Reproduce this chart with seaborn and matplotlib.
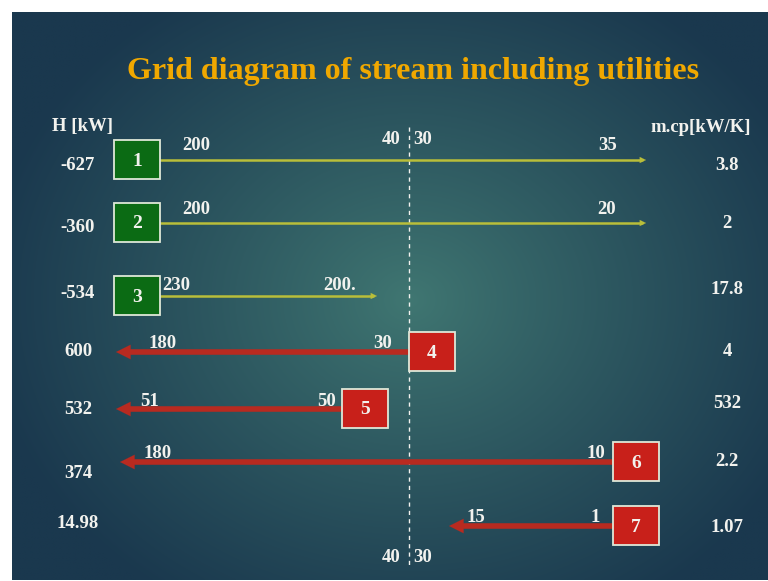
import matplotlib
matplotlib.use("Agg")
import matplotlib.pyplot as plt
from matplotlib.patches import Rectangle
import seaborn as sns
import pandas as pd
import numpy as np

# stream data
stream_id = [1, 2, 3, 4, 5, 6, 7]
kind = ["hot", "hot", "hot", "cold", "cold", "cold", "cold"]
t_start = ["200", "200", "230", "30", "50", "10", "1"]
t_end = ["35", "20", "200.", "180", "51", "180", "15"]
heat_load = ["-627", "-360", "-534", "600", "532", "374", "14.98"]
mcp = ["3.8", "2", "17.8", "4", "532", "2.2", "1.07"]
pinch_hot = "40"
pinch_cold = "30"

# layout of the grid (slide pixels)
row_y = [160, 223, 296, 352, 409, 462, 526]
box_x = [137, 137, 137, 432, 365, 636, 636]
line_from = [160, 160, 160, 409, 345, 614, 614]
line_to = [646, 646, 377, 116, 116, 120, 449]
start_lab_x = [196, 196, 176, 383, 327, 596, 595]
end_lab_x = [608, 607, 340, 163, 150, 158, 476]
lab_dy = [15, 13, 11, 8, 7, 9, 9]
h_lab_y = [165, 228, 293, 351, 409, 473, 523]
mcp_lab_y = [165, 223, 290, 351, 404, 462, 528]
pinch_x = 409

sns.set_theme(style="white")
plt.rcParams['font.family'] = ['Liberation Serif', 'DejaVu Serif']

fig = plt.figure(figsize=(7.68, 5.81), dpi=100)
fig.patch.set_facecolor("white")
ax = fig.add_axes([0, 0, 1, 1])

# slide background: radial teal gradient
gx, gy = np.meshgrid(np.linspace(12, 768, 400), np.linspace(12, 580, 300))
r = np.sqrt(((gx - 410) / 430) ** 2 + ((gy - 300) / 360) ** 2)
r = np.clip(r, 0, 1) ** 0.9
c_in = np.array([0x40, 0x77, 0x72]) / 255
c_out = np.array([0x1a, 0x38, 0x4e]) / 255
img = c_in[None, None, :] * (1 - r[..., None]) + c_out[None, None, :] * r[..., None]
ax.imshow(img, extent=[12, 768, 580, 12], aspect="auto", zorder=0, interpolation="bilinear")

# stream lines (hot run left to right, cold right to left)
direction = [1 if k == "hot" else -1 for k in kind]
rows = []
for i, s in enumerate(stream_id):
    stop = line_to[i] - direction[i] * (4 if kind[i] == "hot" else 10)
    for x in (line_from[i], stop):
        rows.append({"stream": s, "kind": kind[i], "x": x, "y": row_y[i]})
df = pd.DataFrame(rows)
sns.lineplot(data=df, x="x", y="y", units="stream", estimator=None, sort=False,
             hue="kind", palette={"hot": "#b9be3a", "cold": "#b82a20"},
             size="kind", sizes={"hot": 1.8, "cold": 4.0}, legend=False, ax=ax, zorder=3)
ax.set_xlim(0, 768)
ax.set_ylim(581, 0)
ax.axis("off")

white = "#f2f2ee"
for i, s in enumerate(stream_id):
    y = row_y[i]
    hot = kind[i] == "hot"
    col = "#b9be3a" if hot else "#b82a20"
    step = 8 if hot else 14
    ax.annotate("", xy=(line_to[i], y), xytext=(line_to[i] - direction[i] * step, y),
                arrowprops=dict(arrowstyle="-|>", color=col, lw=0.1,
                                mutation_scale=11 if hot else 26,
                                shrinkA=0, shrinkB=0), zorder=4)
    # stream box
    ax.add_patch(Rectangle((box_x[i] - 23, y - 20), 46, 39,
                           facecolor="#0b6b14" if hot else "#c8201a",
                           edgecolor="#dfe8d8", lw=1.3, zorder=5))
    ax.text(box_x[i], y + 1, str(s), color=white, fontsize=14, fontweight="bold",
            ha="center", va="center", zorder=6)
    # temperatures
    ax.text(start_lab_x[i], y - lab_dy[i], t_start[i], color=white, fontsize=13.5,
            fontweight="bold", ha="center", va="center", zorder=6)
    ax.text(end_lab_x[i], y - lab_dy[i], t_end[i], color=white, fontsize=13.5,
            fontweight="bold", ha="center", va="center", zorder=6)
    ax.text(78, h_lab_y[i], heat_load[i], color=white, fontsize=13.5,
            fontweight="bold", ha="center", va="center", zorder=6)
    ax.text(727, mcp_lab_y[i], mcp[i], color=white, fontsize=13.5,
            fontweight="bold", ha="center", va="center", zorder=6)

# pinch line
ax.plot([pinch_x, pinch_x], [127, 566], color=white, lw=1, ls=(0, (3, 3)), zorder=2)
for yy in (140, 557):
    ax.text(pinch_x - 8, yy, pinch_hot, color=white, fontsize=13.5, fontweight="bold",
            ha="right", va="center", zorder=6)
    ax.text(pinch_x + 4, yy, pinch_cold, color=white, fontsize=13.5, fontweight="bold",
            ha="left", va="center", zorder=6)

# headers
ax.text(52, 127, "H [kW]", color=white, fontsize=13.5, fontweight="bold",
        ha="left", va="center", zorder=6)
ax.text(751, 127, "m.cp[kW/K]", color=white, fontsize=13.5, fontweight="bold",
        ha="right", va="center", zorder=6)
ax.text(413, 72, "Grid diagram of stream including utilities", color="#f0a800",
        fontsize=23, fontweight="bold", ha="center", va="center", zorder=6)

fig.savefig("out.png", dpi=100)
